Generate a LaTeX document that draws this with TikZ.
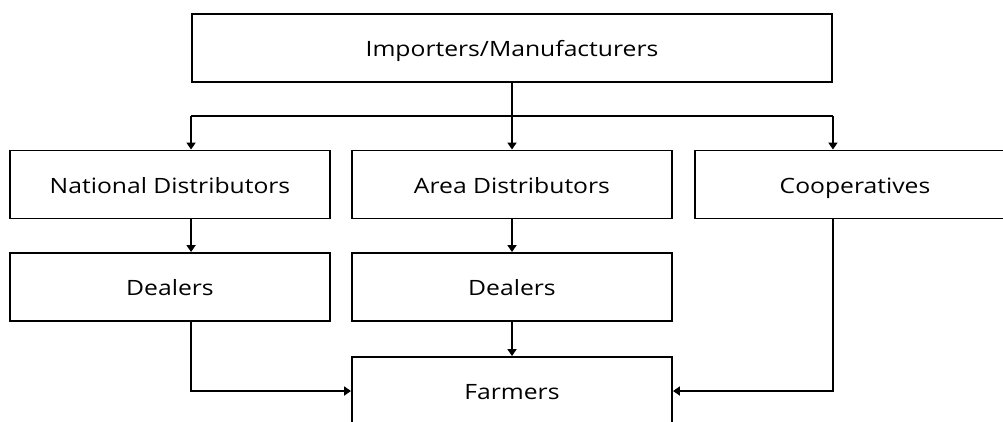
\documentclass[tikz,border=0pt]{standalone}
\usepackage{fontspec}
\setmainfont[FakeStretch = 1.17]{Open Sans}
\usetikzlibrary{arrows.meta}
\tikzset{
    box/.style = {draw, line width = 1.9pt, minimum width = 320pt, minimum height = 68pt, inner sep = 0pt, text height = 21pt, text depth = 4pt, font = \fontsize{21.1}{25}\selectfont},
    link/.style = {line width = 1.9pt},
    arr/.style = {link, -{Triangle[width = 9pt, length = 7pt]}}
}
\begin{document}
\begin{tikzpicture}[x = 1pt, y = -1pt]
            \useasboundingbox (0,0) rectangle (1003,421);
            \node[box, minimum width = 640pt] (imp) at (512,48) {Importers/Manufacturers};
            \node[box] (nat) at (170,184.5) {National Distributors};
            \node[box] (area) at (512,184.5) {Area Distributors};
            \node[box] (coop) at (855,184.5) {Cooperatives};
            \node[box] (dealN) at (170,287) {Dealers};
            \node[box] (dealA) at (512,287) {Dealers};
            \node[box] (farm) at (512,391) {Farmers};
            \coordinate (split) at (512,116);
            % from the importers
            \draw[arr] (imp.south) -- (area.north);
            \draw[link] (split -| imp.west) -- (split -| imp.east);
            \draw[arr] (split -| imp.west) -- (imp.west |- nat.north);
            \draw[arr] (split -| imp.east) -- (imp.east |- coop.north);
            % down to the dealers
            \draw[arr] (imp.west |- nat.south) -- (imp.west |- dealN.north);
            \draw[arr] (area.south) -- (dealA.north);
            % into the farmers
            \draw[arr] (dealA.south) -- (farm.north);
            \draw[arr] (imp.west |- dealN.south) |- (farm.west);
            \draw[arr] (imp.east |- coop.south) |- (farm.east);
        \end{tikzpicture}
\end{document}
